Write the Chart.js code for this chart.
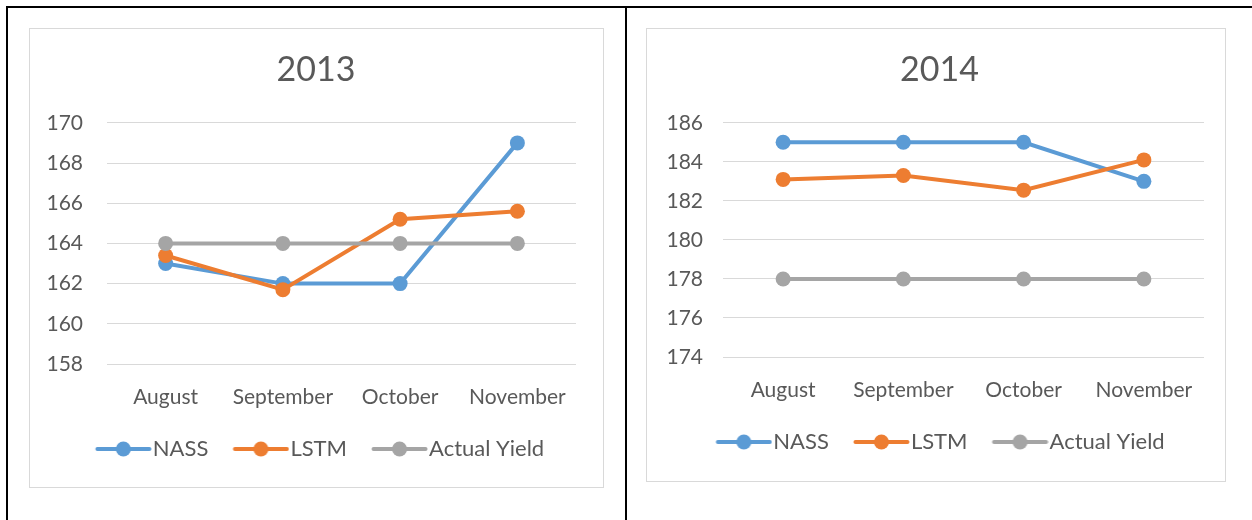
<!DOCTYPE html>
<html>
<head>
<meta charset="utf-8">
<script src="https://cdn.jsdelivr.net/npm/chart.js@4.4.1/dist/chart.umd.min.js"></script>
<style>
  body { margin: 0; background: #fff; width: 1252px; height: 520px; position: relative; overflow: hidden; }
  .cell { position: absolute; top: 6px; bottom: -10px; border-left: 2px solid #000; border-top: 2px solid #000; }
  .box { position: absolute; border: 1px solid #d9d9d9; box-sizing: border-box; background: #fff; }
  .box canvas { position: absolute; left: 0; top: 0; }
</style>
</head>
<body>
<div class="cell" style="left:6px; width:620px;"></div>
<div class="cell" style="left:625px; width:640px;"></div>
<div class="box" style="left:29px; top:28px; width:575px; height:460px;"><canvas id="chart2013"></canvas></div>
<div class="box" style="left:646px; top:28px; width:580px; height:454px;"><canvas id="chart2014"></canvas></div>
<script>
// data
const months = ['August', 'September', 'October', 'November'];
const seriesNames = ['NASS', 'LSTM', 'Actual Yield'];

const nass2013 = [163, 162, 162, 169];
const lstm2013 = [163.4, 161.7, 165.2, 165.6];
const actual2013 = [164, 164, 164, 164];
const yRange2013 = [158, 170];

const nass2014 = [185, 185, 185, 183];
const lstm2014 = [183.1, 183.3, 182.55, 184.1];
const actual2014 = [178, 178, 178, 178];
const yRange2014 = [174, 186];

const yStep = 2;
const colors = ['#5B9BD5', '#ED7D31', '#A5A5A5'];
const textColor = '#595959';

Chart.defaults.font.family = 'Lato, "Open Sans", sans-serif';
Chart.defaults.color = textColor;

// legend icon: line with a dot in the middle.
// chart.js centres the image on the box, so the line sits to the right of the canvas centre
const boxW = 52;
function legendIcon(color) {
    const c = document.createElement('canvas');
    c.width = 72; c.height = 16;
    const g = c.getContext('2d');
    g.strokeStyle = color;
    g.lineWidth = 4;
    g.lineCap = 'round';
    g.beginPath();
    g.moveTo(17.5, 8);
    g.lineTo(69.5, 8);
    g.stroke();
    g.fillStyle = color;
    g.beginPath();
    g.arc(43.5, 8, 7.5, 0, Math.PI * 2);
    g.fill();
    return c;
}
const icons = colors.map(legendIcon);

// move title / legend sideways so they sit where the office chart puts them
const boxShift = {
    id: 'boxShift',
    afterLayout(chart, args, opts) {
        const t = chart.titleBlock, lg = chart.legend;
        if (t) { t.left += opts.title; t.right += opts.title; }
        if (lg) { lg.left += opts.legend; lg.right += opts.legend; }
    }
};

function makeChart(id, title, values, yRange, w, h, padRight, yWidth, yPad, padBottom, shift) {
    const cv = document.getElementById(id);
    cv.width = w; cv.height = h;
    return new Chart(cv.getContext('2d'), {
        type: 'line',
        data: {
            labels: months,
            datasets: values.map((v, i) => ({
                label: seriesNames[i],
                data: v,
                borderColor: colors[i],
                backgroundColor: colors[i],
                borderWidth: 4,
                pointRadius: 7.5,
                pointBorderWidth: 0,
                pointBackgroundColor: colors[i],
                tension: 0,
                order: 2 - i
            }))
        },
        plugins: [boxShift],
        options: {
            responsive: false,
            animation: false,
            devicePixelRatio: 1,
            layout: { padding: { left: 0, right: padRight, top: 0, bottom: padBottom } },
            scales: {
                x: {
                    offset: true,
                    grid: { display: false, drawTicks: false },
                    border: { display: false },
                    ticks: { padding: 21, font: { size: 21 }, color: textColor, maxRotation: 0 },
                    afterFit: s => { s.height = 55; }
                },
                y: {
                    min: yRange[0],
                    max: yRange[1],
                    grid: { color: '#d9d9d9', lineWidth: 1, drawTicks: false },
                    border: { display: false },
                    ticks: { stepSize: yStep, padding: yPad, font: { size: 21 }, color: textColor },
                    afterFit: s => { s.width = yWidth; }
                }
            },
            plugins: {
                title: {
                    display: true,
                    text: title,
                    color: textColor,
                    font: { size: 34, weight: 'normal' },
                    padding: { top: 21, bottom: 32 }
                },
                legend: {
                    position: 'bottom',
                    labels: {
                        usePointStyle: true,
                        pointStyleWidth: boxW,
                        padding: 19,
                        color: textColor,
                        font: { size: 22 },
                        generateLabels: chart => {
                            const items = Chart.defaults.plugins.legend.labels.generateLabels(chart);
                            items.sort((a, b) => a.datasetIndex - b.datasetIndex);
                            items.forEach(it => { it.pointStyle = icons[it.datasetIndex]; });
                            return items;
                        }
                    }
                },
                boxShift: shift,
                tooltip: { enabled: false }
            }
        }
    });
}

makeChart('chart2013', '2013', [nass2013, lstm2013, actual2013], yRange2013, 573, 458, 27, 77, 24, 17, { title: 13, legend: 14 });
makeChart('chart2014', '2014', [nass2014, lstm2014, actual2014], yRange2014, 578, 452, 21, 76, 20, 18, { title: 14, legend: 12 });
</script>
</body>
</html>
